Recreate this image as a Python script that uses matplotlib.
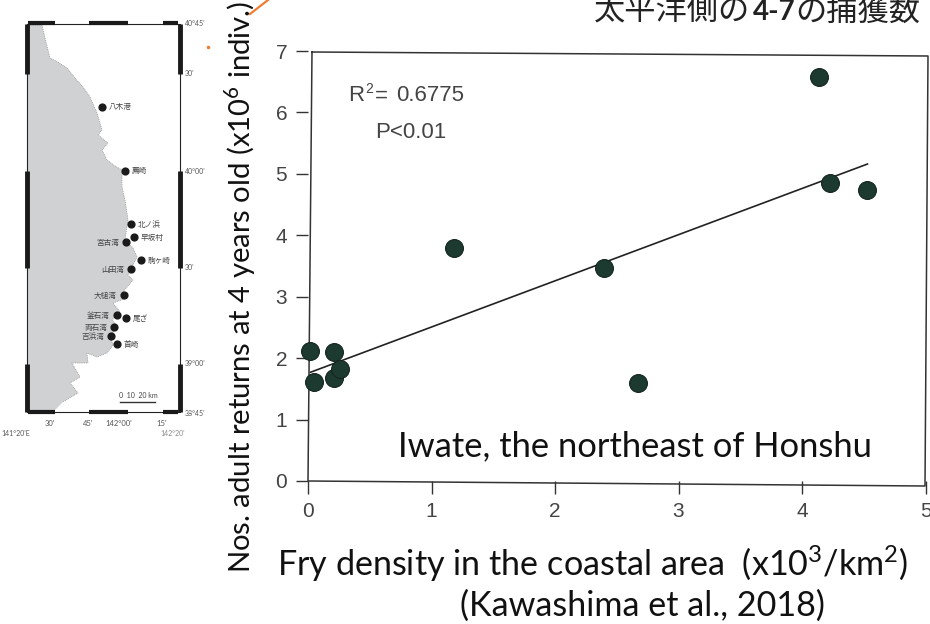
# Fry density vs adult returns, Iwate, with location map on the left

import numpy as np
import matplotlib
matplotlib.use('Agg')
import matplotlib.pyplot as plt

plt.rcParams['font.family'] = ['Lato', 'Noto Sans CJK JP', 'DejaVu Sans']
plt.rcParams['mathtext.fontset'] = 'custom'
plt.rcParams['mathtext.rm'] = 'Lato'

W, H = 930, 624

# scatter values
fry_density = [0.02, 0.05, 0.21, 0.21, 0.26, 1.18, 2.40, 2.67, 4.14, 4.23, 4.53]
adult_returns = [2.12, 1.61, 2.10, 1.68, 1.82, 3.80, 3.47, 1.59, 6.58, 4.85, 4.74]

# regression line end points
fit_x = [0.02, 4.53]
fit_y = [1.77, 5.16]

x_ticks = [0, 1, 2, 3, 4, 5]
y_ticks = [0, 1, 2, 3, 4, 5, 6, 7]

# map, in pixels of the scanned figure
coast_x = [28, 42, 46, 50, 58, 67, 75, 83, 90, 97, 102, 98, 108, 102, 107, 115, 122, 122, 125, 127, 128, 125, 133, 137, 132, 128,
           133, 123, 127, 113, 120, 112, 118, 110, 113, 107, 97, 87, 88, 72, 80, 70, 78, 63, 53, 28]
coast_y = [25, 25, 42, 58, 62, 68, 78, 87, 97, 113, 130, 135, 143, 150, 160, 166, 170, 187, 200, 213, 220, 240, 248, 257, 267, 275,
           280, 292, 298, 303, 312, 320, 327, 335, 345, 353, 357, 353, 363, 363, 377, 383, 393, 402, 412, 412]
sites_x = [102, 125, 131, 134, 126, 141, 131, 124, 117, 126, 114, 111, 117]
sites_y = [107, 171, 224, 237, 242, 260, 269, 295, 315, 318, 327, 336, 344]
site_names = ['八木港', '薦崎', '北ノ浜', '早坂村', '宮古湾', '駒ヶ崎', '山田湾', '大槌湾', '釜石湾', '尾ざ', '両石湾', '吉浜湾', '首崎']
site_side = [1, 1, 1, 1, -1, 1, -1, -1, -1, 1, -1, -1, 1]
lat_labels = ["40°45'", "30'", "40°00'", "30'", "39°00'", "38°45'"]
lat_pos = [23, 74, 171, 268, 364, 413]
lon_labels = ["30'", "45'", "142°00'", "15'"]
lon_pos = [50, 88, 119, 162]
frame_top = [(28, 27), (89, 39), (163, 15)]
frame_side = [(24, 50), (171, 97), (364, 48)]

# tilted scan frame, pixels
frame_x = [312, 928, 925, 308, 312]
frame_y = [52, 56, 486, 481, 52]

fig = plt.figure(figsize=(W / 100, H / 100), dpi=100)

# main scatter panel
ax = fig.add_axes([308 / W, 1 - 481 / H, (925.5 - 308) / W, 430 / H])
ax.plot(fit_x, fit_y, color='#222222', lw=1.2, zorder=2)
ax.scatter(fry_density, adult_returns, s=165, color='#1d3a30', edgecolor='#14241f', lw=0.8, zorder=3, clip_on=False)
ax.set_xlim(0, 5)
ax.set_ylim(0, 7)
ax.set_xticks(x_ticks)
ax.set_yticks(y_ticks)
ax.tick_params(labelsize=15, labelcolor='#444444', color='#333333', length=9, width=1, pad=6)
for lab in ax.get_xticklabels() + ax.get_yticklabels():
    lab.set_family('Liberation Sans')
ax.patch.set_alpha(0)
for s in ax.spines.values():
    s.set_visible(False)
ax.text(0.324, 6.27, 'R', fontsize=16, color='#444444', va='center', family='Liberation Sans')
ax.text(0.46, 6.38, '2', fontsize=10, color='#444444', va='center', family='Liberation Sans')
ax.text(0.545, 6.27, '=', fontsize=16, color='#444444', va='center', family='Liberation Sans')
ax.text(0.713, 6.27, '0.6775', fontsize=16, color='#444444', va='center', family='Liberation Sans')
ax.text(0.54, 5.67, 'P<0.01', fontsize=16, color='#444444', va='center', family='Liberation Sans')
ax.text(0.73, 0.56, 'Iwate, the northeast of Honshu', fontsize=24.8, color='#111111', va='center')

# axis labels, placed as in the slide
fig.text(240 / W, 1 - 287 / H, 'Nos. adult returns at 4 years old (x10$^6$ indiv.)', fontsize=21.1, rotation=90,
         ha='center', va='center', color='#111111')
fig.text(593 / W, 1 - 564 / H, 'Fry density in the coastal area  (x10$^3$/km$^2$)', fontsize=24.6, ha='center', va='center', color='#111111')
fig.text(642 / W, 1 - 606 / H, '(Kawashima et al., 2018)', fontsize=24.6, ha='center', va='center', color='#111111')

# cut off slide title and arrow
fig.text(594 / W, 1 - 11 / H, '太平洋側の', fontsize=22.5, va='center', color='#222222')
fig.text(753 / W, 1 - 12 / H, '4-7', fontsize=20, fontweight='bold', va='center', color='#222222')
fig.text(795 / W, 1 - 11 / H, 'の捕獲数', fontsize=22.5, va='center', color='#222222')

# full-figure overlay in pixels for map and arrow
mp = fig.add_axes([0, 0, 1, 1], zorder=-1)
mp.set_xlim(0, W)
mp.set_ylim(H, 0)
mp.axis('off')
mp.plot(frame_x, frame_y, color='#333333', lw=1.1)
mp.plot([250, 268], [14, 0], color='#ed7d31', lw=1.6)
mp.plot([208], [47], marker='o', ms=1.5, color='#ed7d31')
mp.fill(coast_x, coast_y, color='#cfd1d2', lw=0)
mp.plot(coast_x[:-2], coast_y[:-2], color='#777777', lw=0.5, ls=':')
mp.plot([27, 180, 180, 27, 27], [24, 24, 412, 412, 24], color='#222222', lw=0.8)
for a, b in frame_top:
    mp.plot([a, a + b], [23, 23], color='#1a1a1a', lw=3, solid_capstyle='butt')
    mp.plot([a, a + b], [412, 412], color='#1a1a1a', lw=3, solid_capstyle='butt')
for a, b in frame_side:
    mp.plot([27, 27], [a, a + b], color='#1a1a1a', lw=3.5, solid_capstyle='butt')
    mp.plot([180, 180], [a, a + b], color='#1a1a1a', lw=3.5, solid_capstyle='butt')
mp.scatter(sites_x, sites_y, s=24, color='#1a1a1a', zorder=3)
for x, y, name, side in zip(sites_x, sites_y, site_names, site_side):
    mp.text(x + side * 7, y, name, fontsize=5.5, color='#444444', ha='left' if side > 0 else 'right', va='center', zorder=3)
for y, lab in zip(lat_pos, lat_labels):
    mp.text(185, y, lab, fontsize=5, color='#555555', va='center')
for x, lab in zip(lon_pos, lon_labels):
    mp.text(x, 424, lab, fontsize=5.5, color='#555555', ha='center', va='center')
mp.text(1, 434, "141°20'E", fontsize=5, color='#555555', va='center')
mp.text(160, 434, "142°20'", fontsize=5, color='#888888', va='center')
mp.plot([120, 155], [402, 402], color='#333333', lw=1)
mp.text(138, 396, '0  10  20 km', fontsize=5, color='#444444', ha='center', va='center')

fig.savefig('out.png', dpi=100)
